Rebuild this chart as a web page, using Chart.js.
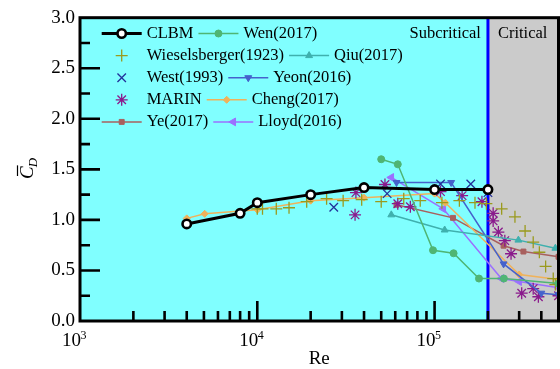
<!DOCTYPE html>
<html>
<head>
<meta charset="utf-8">
<script src="https://cdn.jsdelivr.net/npm/chart.js@4/dist/chart.umd.min.js"></script>
<style>
  html, body { margin: 0; padding: 0; background: #ffffff; }
  #wrap { width: 560px; height: 369px; position: relative; }
</style>
</head>
<body>
<div id="wrap"><canvas id="c" width="560" height="369"></canvas></div>
<script>
// Mean drag coefficient of a circular cylinder versus Reynolds number, [Re, Cd]
const clbm = [[4000,0.96],[8000,1.065],[10000,1.17],[20000,1.25],[40000,1.32],[100000,1.30],[200000,1.30]];
const wen = [[50000,1.60],[62000,1.55],[98000,0.70],[128000,0.67],[178000,0.42],[246000,0.42],[500000,0.37]];
const wieselsberger = [[10000,1.11],[10700,1.11],[12800,1.11],[15100,1.12],[19000,1.18],[24600,1.21],[30500,1.19],
  [38800,1.20],[50000,1.18],[67000,1.21],[83000,1.19],[110000,1.17],[138000,1.19],[169000,1.17],[196000,1.16],
  [239000,1.11],[284000,1.03],[324000,0.89],[360000,0.78],[390000,0.68],[423000,0.54],[467000,0.42],[480000,0.36]];
const qiu = [[57000,1.05],[114000,0.90],[297000,0.80],[480000,0.72]];
const west = [[27000,1.125],[54000,1.26],[108000,1.355],[160000,1.355],[200000,1.27]];
const yeon = [[61000,1.37],[124000,1.37],[245000,0.565],[400000,0.275],[500000,0.26]];
const marin = [[35600,1.05],[36000,1.27],[52500,1.35],[62000,1.16],[73000,1.13],[108000,1.28],[143000,1.24],
  [185000,1.18],[214000,1.065],[214000,0.99],[229000,0.88],[249000,0.795],[270000,0.665],[310000,0.275],
  [360000,0.32],[385000,0.24],[500000,0.25]];
const cheng = [[4000,1.015],[5050,1.06],[10000,1.10],[20000,1.19],[40000,1.22],[100000,1.26],[115000,1.17],
  [300000,0.46],[500000,0.41]];
const ye = [[61000,1.15],[127000,1.02],[245000,0.745],[317000,0.687],[500000,0.635]];
const lloyd = [[57000,1.42],[112000,1.11],[238000,0.42],[300000,0.39],[500000,0.33]];

// Axis ticks and regime boundary
const xDecades = [3, 4, 5];
const yTicks = [0, 0.5, 1.0, 1.5, 2.0, 2.5, 3.0];
const reMin = 1000, reMax = 500000, criticalRe = 200000;
const regimeLabels = ['Subcritical', 'Critical'];

const pts = a => a.map(([x, y]) => ({ x, y }));
const SERIF = '"Liberation Serif", "Times New Roman", serif';

function series(label, data, color, style, opts) {
  return Object.assign({
    label, data: pts(data),
    borderColor: color, backgroundColor: color,
    pointBackgroundColor: color, pointBorderColor: color,
    pointStyle: style, pointRadius: 3.5, pointBorderWidth: 1,
    pointHoverRadius: 3.5, borderWidth: 1.5, showLine: true, tension: 0
  }, opts || {});
}

const datasets = [
  series('CLBM', clbm, '#000000', 'circle', { borderWidth: 3, pointRadius: 4.2, pointBorderWidth: 2.6, pointBackgroundColor: '#ffffff' }),
  series('Wen(2017)', wen, '#4fb574', 'circle', { pointRadius: 3.5 }),
  series('Wieselsberger(1923)', wieselsberger, '#9a9a1e', 'cross', { showLine: false, pointRadius: 6, pointBorderWidth: 1.3 }),
  series('Qiu(2017)', qiu, '#3fb0ae', 'triangle', { pointRadius: 4 }),
  series('West(1993)', west, '#22309a', 'crossRot', { showLine: false, pointRadius: 6, pointBorderWidth: 1.3 }),
  series('Yeon(2016)', yeon, '#4562cc', 'triangle', { pointRadius: 4, pointRotation: 180 }),
  series('MARIN', marin, '#8a1a8c', 'star', { showLine: false, pointRadius: 6, pointBorderWidth: 1.3 }),
  series('Cheng(2017)', cheng, '#f0b25a', 'rectRot', { pointRadius: 3.5 }),
  series('Ye(2017)', ye, '#a8605e', 'rect', { pointRadius: 3.5 }),
  series('Lloyd(2016)', lloyd, '#9b70ff', 'triangle', { pointRadius: 4.5, pointRotation: 270 })
];

// Two entries per legend row
const legendRows = [[0, 1], [2, 3], [4, 5], [6, 7], [8, 9]];

function markerOpts(ds) {
  return { pointStyle: ds.pointStyle, rotation: ds.pointRotation || 0, radius: ds.pointRadius, borderWidth: ds.pointBorderWidth };
}

const decor = {
  id: 'decor',
  beforeDatasetsDraw(chart) {
    const { ctx, chartArea: a, scales: { x } } = chart;
    const xc = x.getPixelForValue(criticalRe);
    ctx.save();
    ctx.fillStyle = '#80ffff';
    ctx.fillRect(a.left, a.top, xc - a.left, a.bottom - a.top);
    ctx.fillStyle = '#cbcbcb';
    ctx.fillRect(xc, a.top, a.right - xc, a.bottom - a.top);
    ctx.strokeStyle = '#0000ff';
    ctx.lineWidth = 3;
    ctx.beginPath(); ctx.moveTo(xc, a.top); ctx.lineTo(xc, a.bottom); ctx.stroke();
    ctx.restore();
  },
  afterDatasetsDraw(chart) {
    const { ctx, chartArea: a, scales: { x, y } } = chart;
    ctx.save();
    // frame
    ctx.strokeStyle = '#000'; ctx.lineWidth = 3;
    ctx.strokeRect(a.left, a.top, a.right - a.left, a.bottom - a.top);
    // x ticks (inside), major at decades, minor at 2..9
    ctx.lineWidth = 2.6; ctx.lineCap = 'butt';
    ctx.beginPath();
    for (const d of xDecades) {
      for (let m = 1; m <= 9; m++) {
        const v = m * Math.pow(10, d);
        if (v <= reMin || v >= reMax) continue;
        const px = x.getPixelForValue(v);
        const len = m === 1 ? 20 : 10;
        ctx.moveTo(px, a.bottom); ctx.lineTo(px, a.bottom - len);
      }
    }
    // y ticks (inside), major every 0.5, minor every 0.25
    for (let v = 0.25; v < 3; v += 0.25) {
      const py = y.getPixelForValue(v);
      const len = Math.abs(v * 2 - Math.round(v * 2)) < 1e-6 ? 20 : 10;
      ctx.moveTo(a.left, py); ctx.lineTo(a.left + len, py);
    }
    ctx.stroke();

    // y tick labels
    ctx.fillStyle = '#000';
    ctx.font = '19px ' + SERIF;
    ctx.textAlign = 'right'; ctx.textBaseline = 'middle';
    for (const v of yTicks) ctx.fillText(v.toFixed(1), a.left - 5, y.getPixelForValue(v));

    // x tick labels 10^n
    for (const d of xDecades) {
      const px = x.getPixelForValue(Math.pow(10, d));
      ctx.font = '19px ' + SERIF;
      ctx.textAlign = 'right'; ctx.textBaseline = 'alphabetic';
      ctx.fillText('10', px + 1, 346);
      ctx.font = '12px ' + SERIF;
      ctx.textAlign = 'left';
      ctx.fillText(String(d), px + 0.5, 338.5);
    }

    // axis titles
    ctx.font = '19px ' + SERIF;
    ctx.textAlign = 'center'; ctx.textBaseline = 'middle';
    ctx.fillText('Re', (a.left + a.right) / 2, 359);

    ctx.save();
    ctx.translate(27, 168);
    ctx.rotate(-Math.PI / 2);
    ctx.font = 'italic 19px ' + SERIF;
    const wC = ctx.measureText('C').width;
    ctx.font = 'italic 13px ' + SERIF;
    const wD = ctx.measureText('D').width;
    const x0 = -(wC + wD) / 2;
    ctx.font = 'italic 19px ' + SERIF;
    ctx.textAlign = 'left'; ctx.textBaseline = 'alphabetic';
    ctx.fillText('C', x0, 6);
    ctx.lineWidth = 1.2;
    ctx.beginPath(); ctx.moveTo(x0 + 3, -9.5); ctx.lineTo(x0 + wC + 1, -9.5); ctx.stroke();
    ctx.font = 'italic 13px ' + SERIF;
    ctx.fillText('D', x0 + wC - 1, 10);
    ctx.restore();

    // regime labels
    const xc = x.getPixelForValue(criticalRe);
    ctx.font = '16.5px ' + SERIF;
    ctx.textBaseline = 'middle';
    ctx.textAlign = 'right';
    ctx.fillText(regimeLabels[0], xc - 7, 33.5);
    ctx.textAlign = 'left';
    ctx.fillText(regimeLabels[1], xc + 10, 33.5);

    // legend
    legendRows.forEach((row, r) => {
      const ry = 33.5 + r * 22.1;
      let lx = 101.7;
      row.forEach(i => {
        const ds = chart.data.datasets[i];
        if (ds.showLine) {
          ctx.strokeStyle = ds.borderColor; ctx.lineWidth = ds.borderWidth;
          ctx.beginPath(); ctx.moveTo(lx, ry); ctx.lineTo(lx + 40, ry); ctx.stroke();
        }
        ctx.fillStyle = ds.pointBackgroundColor; ctx.strokeStyle = ds.pointBorderColor;
        ctx.lineWidth = ds.pointBorderWidth;
        Chart.helpers.drawPoint(ctx, markerOpts(ds), lx + 20, ry);
        ctx.fillStyle = '#000';
        ctx.font = '16.5px ' + SERIF;
        ctx.textAlign = 'left'; ctx.textBaseline = 'middle';
        ctx.fillText(ds.label, lx + 45, ry);
        lx += 45 + ctx.measureText(ds.label).width + 5;
      });
    });
    ctx.restore();
  }
};

new Chart(document.getElementById('c'), {
  type: 'scatter',
  data: { datasets },
  options: {
    responsive: false,
    animation: false,
    devicePixelRatio: 1,
    layout: { autoPadding: false, padding: { left: 80, right: 1.5, top: 17.7, bottom: 48 } },
    plugins: { legend: { display: false }, tooltip: { enabled: false } },
    scales: {
      x: { type: 'logarithmic', min: reMin, max: reMax, display: false },
      y: { type: 'linear', min: 0, max: 3, display: false }
    }
  },
  plugins: [decor]
});
</script>
</body>
</html>
